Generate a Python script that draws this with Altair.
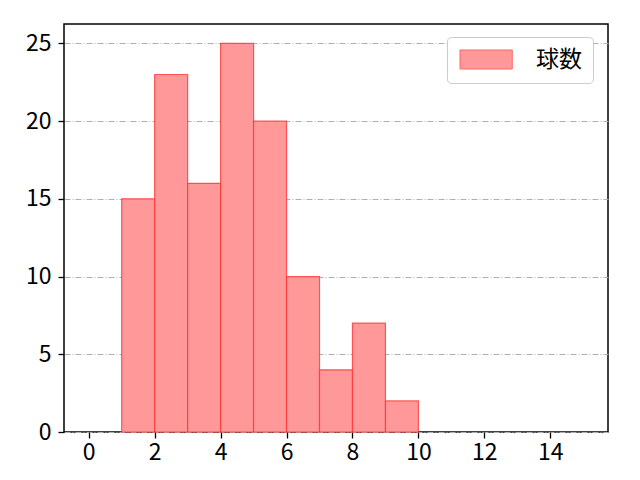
import altair as alt
import pandas as pd

bin_start = [1, 2, 3, 4, 5, 6, 7, 8, 9]
bin_end = [2, 3, 4, 5, 6, 7, 8, 9, 10]
counts = [15, 23, 16, 25, 20, 10, 4, 7, 2]
series = ["球数"] * len(counts)

df = pd.DataFrame({"start": bin_start, "end": bin_end, "count": counts, "series": series})

FONT = "Noto Sans CJK JP"

bars = alt.Chart(df).mark_rect(
    fill="#ff9999", stroke="#ff3333", strokeWidth=1.2, strokeOpacity=0.8
).encode(
    x=alt.X("start:Q", scale=alt.Scale(domain=[-0.75, 15.75], nice=False, zero=False),
            axis=alt.Axis(values=[0, 2, 4, 6, 8, 10, 12, 14], grid=False, title=None,
                          labelFontSize=23, labelFont=FONT, labelColor="#000",
                          tickColor="#000", tickSize=6, tickWidth=1.3, labelPadding=3,
                          domain=False)),
    x2="end:Q",
    y=alt.Y("count:Q", scale=alt.Scale(domain=[0, 26.25], nice=False),
            axis=alt.Axis(values=[0, 5, 10, 15, 20, 25], grid=True, title=None,
                          gridColor="#b0b0b0", gridDash=[6, 2, 1, 2], gridWidth=1,
                          labelFontSize=23, labelFont=FONT, labelColor="#000",
                          tickColor="#000", tickSize=6, tickWidth=1.3, labelPadding=7,
                          domain=False)),
    y2=alt.datum(0),
    color=alt.Color("series:N", scale=alt.Scale(range=["#ff9999"]),
                    legend=alt.Legend(
                        title=None, orient="none", legendX=383, legendY=13,
                        symbolType="M-1,-1L4.5,-1L4.5,1L-1,1Z",
                        symbolSize=361, symbolFillColor="#ff9999",
                        symbolStrokeColor="#ff6666", symbolStrokeWidth=1,
                        labelFontSize=23, labelFont=FONT, labelColor="#000",
                        labelOffset=55, padding=11,
                        fillColor="white", strokeColor="#cccccc",
                        cornerRadius=4)),
)

chart = bars.properties(
    width=544, height=408,
    padding={"left": 56, "top": 16, "right": 24, "bottom": 40},
    autosize=alt.AutoSizeParams(type="none"),
).configure_view(
    stroke="#000", strokeWidth=1.5
)

chart.save("out.html", embed_options={"renderer": "svg", "actions": False})
